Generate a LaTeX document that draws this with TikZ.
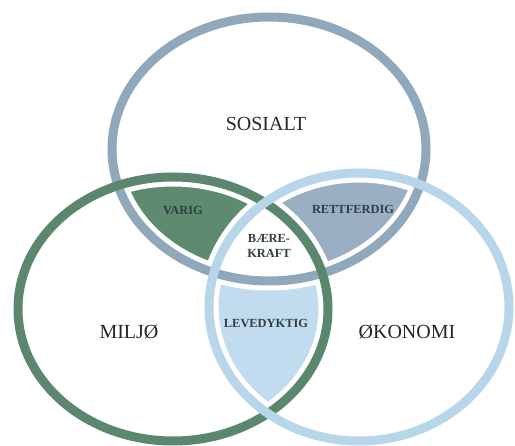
\documentclass[tikz,border=0pt]{standalone}
\usepackage{fontspec}
\setmainfont{Liberation Serif}
\definecolor{sosc}{HTML}{8FA8BC}
\definecolor{milc}{HTML}{5B876E}
\definecolor{okoc}{HTML}{B8D6EA}
\definecolor{rettf}{HTML}{9AB0C2}
\definecolor{levf}{HTML}{C0DCEE}
\definecolor{varf}{HTML}{5E8A70}
\definecolor{labc}{HTML}{333D44}
\tikzset{
  ringwhite/.style={draw=white, line width=19pt},
  ringcol/.style={draw=#1, line width=9pt},
  bigtext/.style={font=\fontsize{20}{22}\selectfont, text=black!85, inner sep=0pt},
  smalltext/.style={font=\bfseries\fontsize{12.4}{15}\selectfont, text=labc, inner sep=0pt, align=center},
}
\begin{document}
\begin{tikzpicture}[x=1pt, y=-1pt]
\useasboundingbox (0,0) rectangle (515,446);
\def\topE{(269,149) ellipse [x radius=157pt, y radius=132pt]}
\def\leftE{(173,309) ellipse [x radius=155pt, y radius=132pt]}
\def\rightE{(359,307) ellipse [x radius=150pt, y radius=134pt]}
% intersections
\begin{scope}
  \clip \topE; \clip \leftE; \fill[varf] \leftE;
\end{scope}
\begin{scope}
  \clip \topE; \clip \rightE; \fill[rettf] \rightE;
\end{scope}
\begin{scope}
  \clip \leftE; \clip \rightE; \fill[levf] \rightE;
\end{scope}
\begin{scope}
  \clip \topE; \clip \leftE; \fill[white] \rightE;
\end{scope}
% white gaps round the rings
\path[ringwhite] \topE;
\path[ringwhite] \leftE;
\path[ringwhite] \rightE;
% rings
\path[ringcol=sosc] \topE;
\path[ringcol=milc] \leftE;
\path[ringcol=okoc] \rightE;
% labels
\node[bigtext] (sos) at (266,124) {SOSIALT};
\node[bigtext] (mil) at (129,332) {MILJØ};
\node[bigtext] (oko) at (407,332) {ØKONOMI};
\node[smalltext] (var) at (183,210) {VARIG};
\node[smalltext] (ret) at (353,209) {RETTFERDIG};
\node[smalltext] (bae) at (269,246) {BÆRE-\\KRAFT};
\node[smalltext] (lev) at (266,323) {LEVEDYKTIG};
\end{tikzpicture}
\end{document}
